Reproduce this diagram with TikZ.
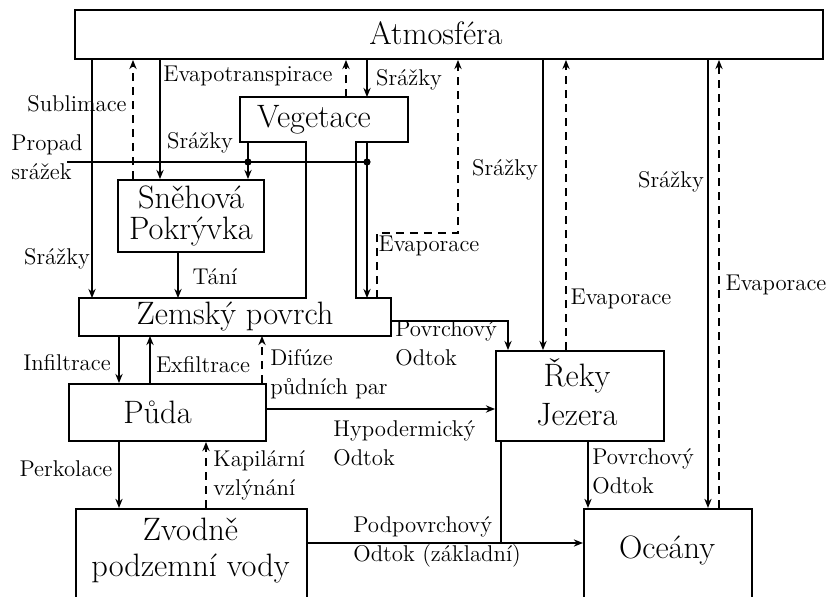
\documentclass[tikz,border=0pt]{standalone}
\usetikzlibrary{arrows.meta}
\begin{document}
\begin{tikzpicture}[x=0.5pt,y=-0.5pt,
  box/.style={draw, line width=0.9pt, inner sep=0pt, align=center, font=\fontsize{16.2}{18}\selectfont},
  ghost/.style={box, draw=none},
  lab/.style={inner sep=0pt, align=left, font=\fontsize{11.4}{14.5}\selectfont},
  flow/.style={line width=0.9pt, -{Stealth[length=4.6pt,width=3.6pt]}},
  back/.style={flow, dash pattern=on 4pt off 3pt},
  link/.style={line width=0.9pt},
  dot/.style={fill=black}]
\useasboundingbox (0,0) rectangle (830,597);

% boxes
\node[box, minimum width=374pt, minimum height=24.5pt] (atm) at (449,34.5) {};
\node[ghost] (atmt) at (436,33) {Atmosféra};
\node[ghost, minimum width=83pt, minimum height=21.5pt] (veg) at (324,119.5) {Vegetace\hspace{10pt}};
\node[ghost, minimum width=155pt, minimum height=18pt] (zem) at (235,317) {Zemský povrch};
\node[box, minimum width=73pt, minimum height=36pt, font=\fontsize{16.2}{15.5}\selectfont] (sne) at (191,216) {Sněhová\\Pokrývka};
\node[box, minimum width=98.5pt, minimum height=28.5pt] (puda) at (167.5,412.5) {Půda\hspace{10pt}};
\node[box, minimum width=115.5pt, minimum height=46pt, anchor=north west] (zvo) at (75,508) {};
\node[ghost] (zvot) at (190.5,551) {Zvodně\\podzemní vody};
\node[box, minimum width=84pt, minimum height=45pt] (rek) at (580,396) {};
\node[ghost, font=\fontsize{16.2}{19.5}\selectfont] (rekt) at (577,392) {Řeky\\Jezera};
\node[box, minimum width=84pt, minimum height=46pt, anchor=north west] (oce) at (583,508) {};
\node[ghost] (ocet) at (667,550) {Oceány};

% Vegetace + Zemsky povrch outline
\draw[link] (veg.north west) -- (veg.north east) -- (veg.south east)
  -- (veg.south -| 356,0) -- (zem.north -| 356,0) -- (zem.north east)
  -- (zem.south east) -- (zem.south west) -- (zem.north west)
  -- (zem.north -| 306,0) -- (veg.south -| 306,0) -- (veg.south west) -- cycle;

% atmosphere exchanges
\draw[flow] (atm.south -| 92,0) -- (zem.north -| 92,0);
\draw[back] (sne.north -| 133,0) -- (atm.south -| 133,0);
\draw[flow] (atm.south -| 160,0) -- (sne.north -| 160,0);
\draw[back] (veg.north -| 346,0) -- (atm.south -| 346,0);
\draw[flow] (atm.south -| 367,0) -- (veg.north -| 367,0);
\draw[flow] (veg.south -| 248,0) -- (sne.north -| 248,0);
\draw[flow] (veg.south -| 367,0) -- (zem.north -| 367,0);
\coordinate (propad) at (67,162);
\coordinate (d1) at (248,162);
\coordinate (d2) at (367,162);
\draw[link] (propad) -- (d2);
\fill[dot] (d1) circle (1.8pt);
\fill[dot] (d2) circle (1.8pt);
\coordinate (ev) at (458,233);
\draw[back] (zem.north -| 377,0) |- (ev) -- (atm.south -| ev);
\draw[flow] (atm.south -| 543,0) -- (rek.north -| 543,0);
\draw[back] (rek.north -| 566,0) -- (atm.south -| 566,0);
\draw[flow] (atm.south -| 708,0) -- (oce.north -| 708,0);
\draw[back] (oce.north -| 719,0) -- (atm.south -| 719,0);

% ground
\draw[flow] (sne.south -| 178,0) -- (zem.north -| 178,0);
\draw[flow] (zem.south -| 119,0) -- (puda.north -| 119,0);
\draw[flow] (puda.north -| 150,0) -- (zem.south -| 150,0);
\draw[back] (puda.north -| 262,0) -- (zem.south -| 262,0);
\draw[flow] (zem.east |- 0,321) -| (rek.north -| 508,0);
\draw[flow] (puda.east |- 0,409) -- (rek.west |- 0,409);
\draw[flow] (zvo.east |- 0,543) -- (oce.west |- 0,543);
\coordinate (j) at (501,543);
\draw[link] (rek.south -| j) -- (j);
\draw[flow] (rek.south -| 588,0) -- (oce.north -| 588,0);
\draw[flow] (puda.south -| 119,0) -- (zvo.north -| 119,0);
\draw[back] (zvo.north -| 206,0) -- (puda.south -| 206,0);

% labels
\node[lab] (l1) at (57,259) {Srážky};
\node[lab] (l2) at (77,104) {Sublimace};
\node[lab, anchor=west] (l3) at (11,157.5) {Propad\\srážek};
\node[lab] (l4) at (200,143) {Srážky};
\node[lab] (l5) at (248,76) {Evapotranspirace};
\node[lab] (l6) at (409,80) {Srážky};
\node[lab] (l7) at (429,246) {Evaporace};
\node[lab] (l8) at (505,170) {Srážky};
\node[lab] (l9) at (621,299) {Evaporace};
\node[lab] (l10) at (671,182) {Srážky};
\node[lab] (l11) at (776,285) {Evaporace};
\node[lab] (l12) at (215,277) {Tání};
\node[lab] (l13) at (67,363) {Infiltrace};
\node[lab] (l14) at (203,365) {Exfiltrace};
\node[lab, anchor=west] (l15) at (270,374) {Difúze\\půdních par};
\node[lab, anchor=west] (l16) at (395,343) {Povrchový\\Odtok};
\node[lab, anchor=west] (l17) at (333,443) {Hypodermický\\Odtok};
\node[lab, anchor=west] (l18) at (353,542) {Podpovrchový\\Odtok (základní)};
\node[lab, anchor=west] (l19) at (592,471) {Povrchový\\Odtok};
\node[lab] (l20) at (66,469) {Perkolace};
\node[lab, anchor=west] (l21) at (213,475) {Kapilární\\vzlýnání};
\end{tikzpicture}
\end{document}
